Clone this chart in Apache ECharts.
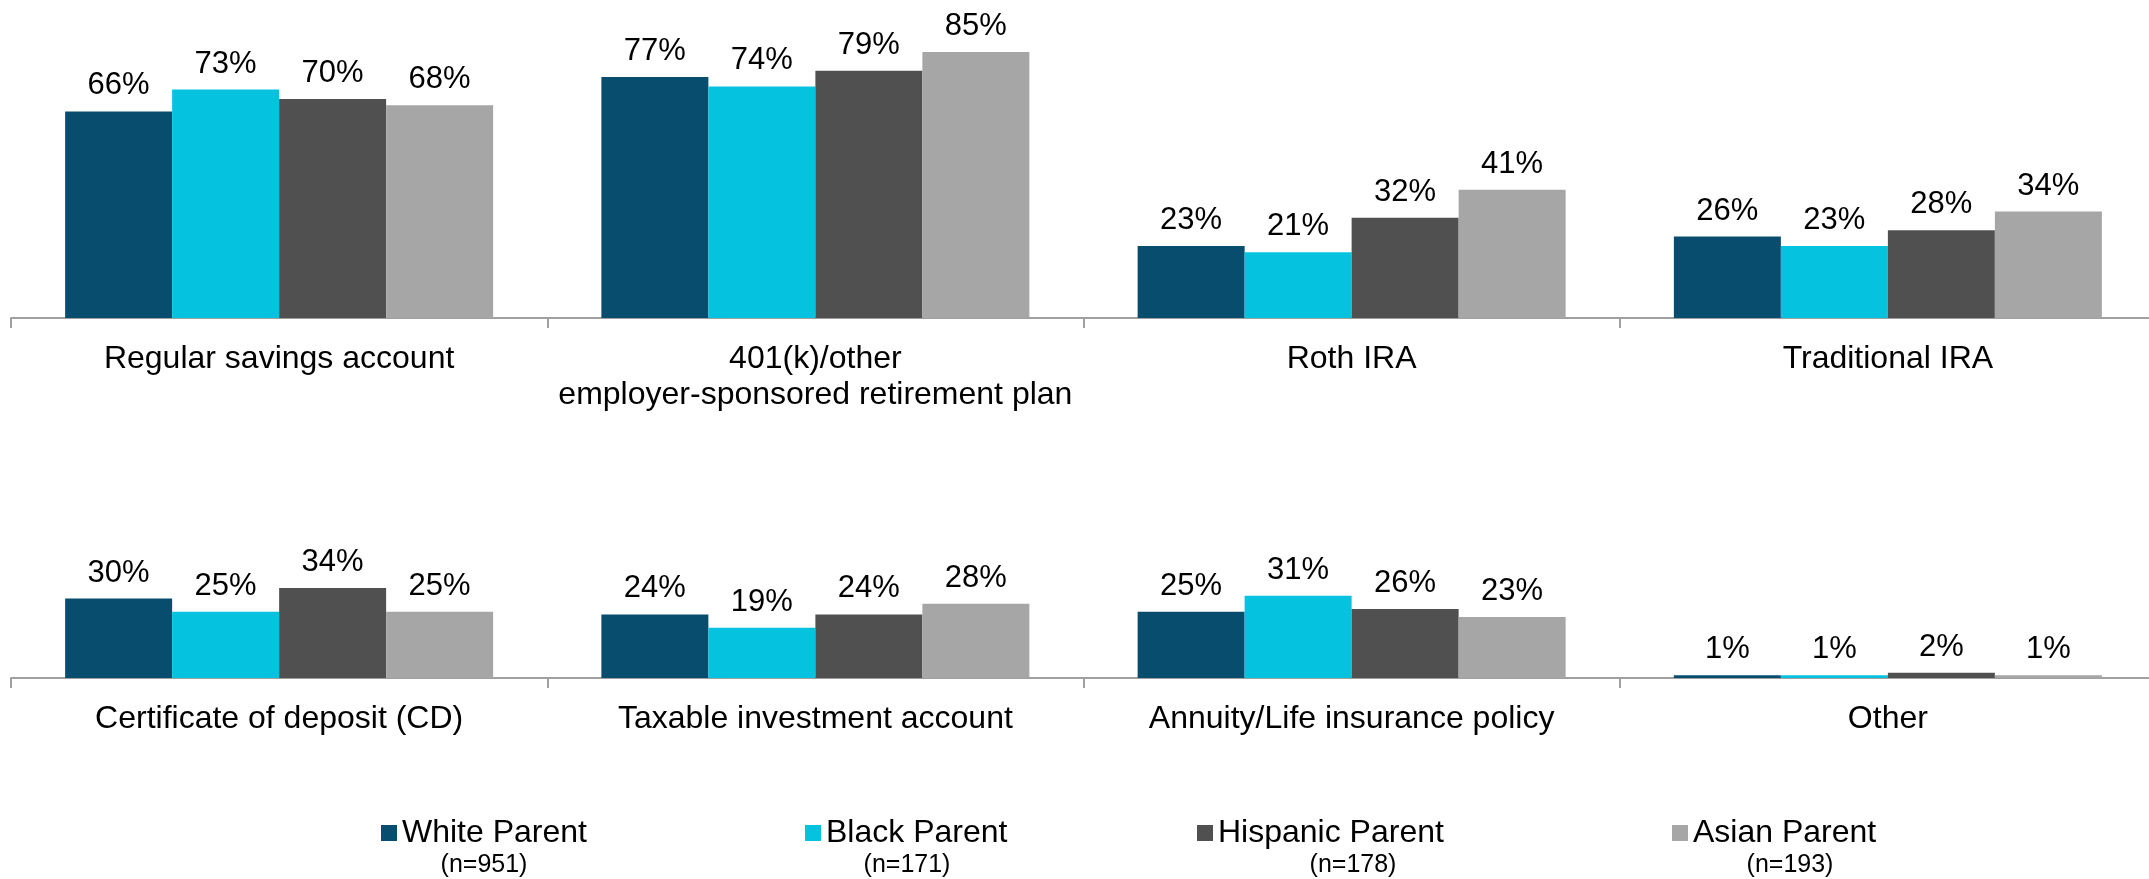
<!DOCTYPE html>
<html>
<head>
<meta charset="utf-8">
<script src="https://cdn.jsdelivr.net/npm/echarts@6/dist/echarts.min.js"></script>
<style>
html,body{margin:0;padding:0;background:#fff;overflow:hidden;}
#chart{width:2160px;height:879px;}
</style>
</head>
<body>
<div id="chart"></div>
<script>
const topCategories = ['Regular savings account', '401(k)/other\nemployer-sponsored retirement plan', 'Roth IRA', 'Traditional IRA'];
const bottomCategories = ['Certificate of deposit (CD)', 'Taxable investment account', 'Annuity/Life insurance policy', 'Other'];
const seriesNames = ['White Parent', 'Black Parent', 'Hispanic Parent', 'Asian Parent'];
const sampleSizes = ['(n=951)', '(n=171)', '(n=178)', '(n=193)'];
const whiteTop = [66, 77, 23, 26];
const blackTop = [73, 74, 21, 23];
const hispanicTop = [70, 79, 32, 28];
const asianTop = [68, 85, 41, 34];
const whiteBottom = [30, 24, 25, 1];
const blackBottom = [25, 19, 31, 1];
const hispanicBottom = [34, 24, 26, 2];
const asianBottom = [25, 28, 23, 1];

const colors = ['#084C6E', '#05C3DE', '#505050', '#A6A6A6'];
const FONT = "'Liberation Sans', Arial, sans-serif";
const topData = [whiteTop, blackTop, hispanicTop, asianTop];
const bottomData = [whiteBottom, blackBottom, hispanicBottom, asianBottom];

function xAxisFor(gridIndex, cats) {
  return {
    type: 'category', gridIndex: gridIndex, data: cats,
    axisLine: {show: true, lineStyle: {color: '#A0A0A0', width: 2}},
    axisTick: {show: true, length: 10, lineStyle: {color: '#A0A0A0', width: 2}},
    axisLabel: {interval: 0, fontSize: 32, color: '#000', fontFamily: FONT, margin: 23, lineHeight: 36}
  };
}
function yAxisFor(gridIndex) {
  return {type: 'value', gridIndex: gridIndex, min: 0, max: 100, show: false, splitLine: {show: false}};
}
const series = [];
[topData, bottomData].forEach(function (set, g) {
  set.forEach(function (vals, i) {
    series.push({
      name: seriesNames[i], type: 'bar', xAxisIndex: g, yAxisIndex: g,
      data: vals, barWidth: 107, barGap: '0%',
      itemStyle: {color: colors[i]},
      label: {show: true, position: 'top', distance: 10, formatter: '{c}%', fontSize: 31, color: '#000', fontFamily: FONT}
    });
  });
});
const legendLefts = [376, 800, 1192, 1667];
const nCenters = [484, 907, 1353, 1790];
const legends = seriesNames.map(function (n, i) {
  return {
    data: [n], left: legendLefts[i], top: 812, icon: 'rect', itemWidth: 16, itemHeight: 16,
    textStyle: {fontSize: 32, color: '#000', fontFamily: FONT}, selectedMode: false
  };
});
const graphics = sampleSizes.map(function (t, i) {
  return {type: 'text', x: nCenters[i], y: 865, style: {text: t, align: 'center', verticalAlign: 'middle', fontSize: 25, fill: '#000', fontFamily: FONT}};
});

const chart = echarts.init(document.getElementById('chart'));
chart.setOption({
  animation: false,
  backgroundColor: '#fff',
  grid: [
    {left: 11, width: 2145, top: 5, height: 313},
    {left: 11, width: 2145, top: 413, height: 265}
  ],
  xAxis: [xAxisFor(0, topCategories), xAxisFor(1, bottomCategories)],
  yAxis: [yAxisFor(0), yAxisFor(1)],
  legend: legends,
  graphic: graphics,
  series: series
});
</script>
</body>
</html>
